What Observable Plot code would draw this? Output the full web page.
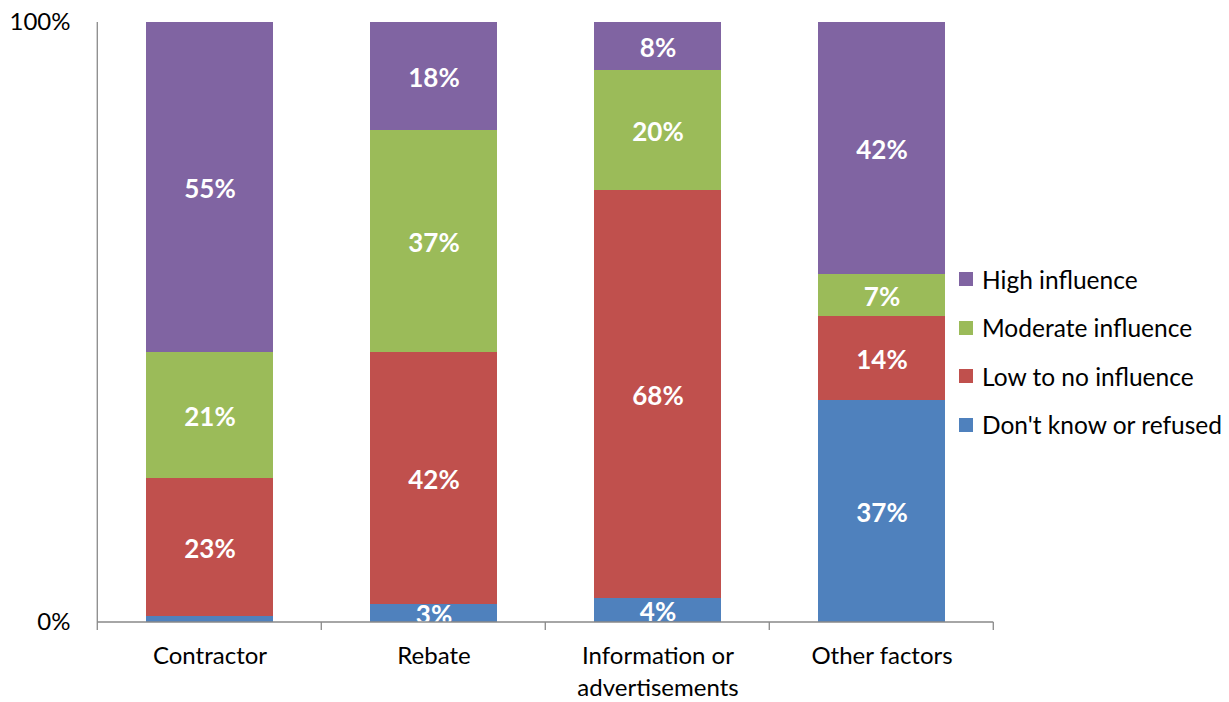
<!DOCTYPE html>
<html><head><meta charset="utf-8">
<script src="https://cdn.jsdelivr.net/npm/d3@7"></script>
<script src="https://cdn.jsdelivr.net/npm/@observablehq/plot@0.6"></script>
<style>
body{margin:0;background:#fff;font-family:Lato,sans-serif;}
#wrap{position:relative;width:1229px;height:702px;}
#legend{position:absolute;left:959px;top:255px;}
.item{display:flex;align-items:center;height:48.5px;font-size:24.5px;color:#000;white-space:nowrap;}
.sw{width:14px;height:14px;margin-right:9px;flex:none;}
</style></head><body><div id="wrap"></div>
<script>
const categories = ["Contractor", "Rebate", "Information or advertisements", "Other factors"];
const series = ["Don't know or refused", "Low to no influence", "Moderate influence", "High influence"];
const dontKnow = [1, 3, 4, 37];
const lowNo = [23, 42, 68, 14];
const moderate = [21, 37, 20, 7];
const high = [55, 18, 8, 42];
const colors = ["#4F81BD", "#C0504D", "#9BBB59", "#8064A2"];
const legendOrder = ["High influence", "Moderate influence", "Low to no influence", "Don't know or refused"];

const valuesBySeries = [dontKnow, lowNo, moderate, high];
const data = [];
series.forEach((s, si) => categories.forEach((c, ci) => data.push({category: c, series: s, value: valuesBySeries[si][ci]})));

const padInner = 0.435;

function axisLines(index, scales, values, dims) {
  const g = d3.create("svg:g").attr("stroke", "#898989").attr("stroke-width", 1.3).attr("fill", "none");
  const y0 = scales.y(0), y1 = scales.y(1);
  const step = scales.x(categories[1]) - scales.x(categories[0]);
  const bw = (typeof scales.x.bandwidth === "number") ? scales.x.bandwidth : step * (1 - padInner);
  const gap = (step - bw) / 2;
  const left = scales.x(categories[0]) - gap;
  const right = scales.x(categories[categories.length - 1]) + bw + gap;
  g.append("line").attr("x1", left).attr("x2", left).attr("y1", y1).attr("y2", y0 + 8);
  g.append("line").attr("x1", left).attr("x2", right).attr("y1", y0).attr("y2", y0);
  const bounds = categories.map(c => scales.x(c) - gap).concat([right]);
  bounds.slice(1).forEach(b => g.append("line").attr("x1", b).attr("x2", b).attr("y1", y0).attr("y2", y0 + 8));
  return g.node();
}

const plot = Plot.plot({
  width: 1229,
  height: 702,
  marginLeft: 96,
  marginRight: 234,
  marginTop: 22,
  marginBottom: 80,
  style: {fontFamily: "Lato, sans-serif", fontSize: "24px", background: "#fff", color: "#000", overflow: "visible"},
  x: {domain: categories, paddingInner: padInner, paddingOuter: padInner / 2, label: null},
  y: {domain: [0, 1], label: null},
  color: {domain: series, range: colors},
  marks: [
    Plot.barY(data, Plot.stackY({x: "category", y: "value", z: "series", fill: "series", order: series, offset: "normalize"})),
    Plot.text(data, Plot.stackY({x: "category", y: "value", z: "series", order: series, offset: "normalize",
      text: d => d.value >= 2 ? d.value + "%" : null, fill: "white", fontWeight: "bold", fontSize: 26, dy: 2, clip: true})),
    Plot.axisY({ticks: [0, 1], tickFormat: d3.format(".0%"), tickSize: 0, tickPadding: 26, fontSize: 24, label: null}),
    Plot.axisX({tickSize: 0, tickPadding: 19, fontSize: 24, lineHeight: 1.33, label: null,
      tickFormat: d => d.replace(" or ", " or\n")}),
    axisLines
  ]
});

const wrap = document.getElementById("wrap");
wrap.appendChild(plot);
const legend = document.createElement("div");
legend.id = "legend";
legendOrder.forEach(name => {
  const it = document.createElement("div");
  it.className = "item";
  const sw = document.createElement("span");
  sw.className = "sw";
  sw.style.background = colors[series.indexOf(name)];
  const t = document.createElement("span");
  t.textContent = name;
  it.appendChild(sw); it.appendChild(t);
  legend.appendChild(it);
});
wrap.appendChild(legend);
</script>
</body></html>
